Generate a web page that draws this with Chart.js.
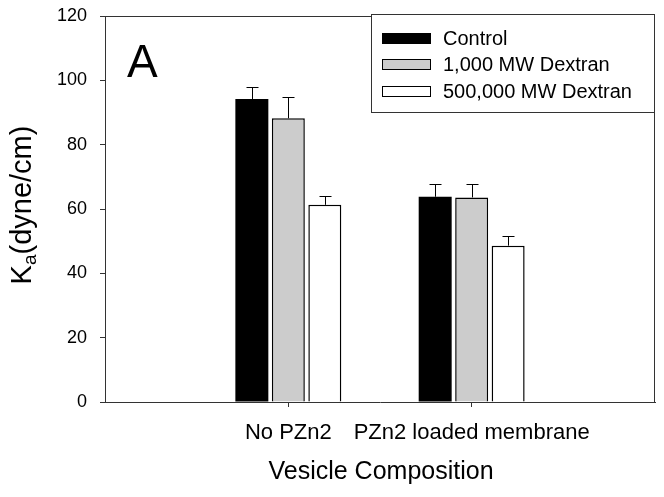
<!DOCTYPE html>
<html>
<head>
<meta charset="utf-8">
<script src="https://cdn.jsdelivr.net/npm/chart.js@4.4.0/dist/chart.umd.min.js"></script>
<style>
  html, body { margin: 0; padding: 0; background: #fff; }
  #wrap { width: 664px; height: 497px; }
</style>
</head>
<body>
<div id="wrap"><canvas id="kaChart" width="664" height="497"></canvas></div>
<script>
// Valores
const categories = ["No PZn2", "PZn2 loaded membrane"];
const seriesNames = ["Control", "1,000 MW Dextran", "500,000 MW Dextran"];
const controlVals = [94.2, 63.8];
const dextran1kVals = [88.2, 63.6];
const dextran500kVals = [61.3, 48.6];
// barras de error (solo hacia arriba)
const controlErr = [3.8, 4.1];
const dextran1kErr = [6.5, 4.2];
const dextran500kErr = [2.7, 2.9];
const yTicks = [0, 20, 40, 60, 80, 100, 120];

const FONT = "'Liberation Sans', Arial, sans-serif";

// categorías vacías a los lados para dejar hueco como en el original
const labels = ["", ...categories, ""];
const pad = arr => [null, ...arr, null];

const seriesVals = [controlVals, dextran1kVals, dextran500kVals];
const seriesErr = [controlErr, dextran1kErr, dextran500kErr];
const fills = ["#000000", "#cccccc", "#ffffff"];

// Marco, barras de error, leyenda, letra "A" y títulos de ejes
const extrasPlugin = {
  id: "extras",
  afterDatasetsDraw(chart) {
    const ctx = chart.ctx;
    const y = chart.scales.y;
    // barras de error
    ctx.save();
    ctx.strokeStyle = "#000";
    ctx.lineWidth = 1;
    chart.data.datasets.forEach((ds, i) => {
      const meta = chart.getDatasetMeta(i);
      meta.data.forEach((bar, j) => {
        const v = ds.data[j];
        if (v == null) return;
        const err = seriesErr[i][j - 1];
        const y0 = y.getPixelForValue(v);
        const y1 = Math.round(y.getPixelForValue(v + err)) + 0.5;
        const x = Math.round(bar.x) + 0.5;
        ctx.beginPath();
        ctx.moveTo(x, y0);
        ctx.lineTo(x, y1);
        ctx.moveTo(x - 6, y1);
        ctx.lineTo(x + 6, y1);
        ctx.stroke();
      });
    });
    ctx.restore();
  },
  afterDraw(chart) {
    const ctx = chart.ctx;
    const a = chart.chartArea;
    ctx.save();
    // marco superior y derecho
    ctx.strokeStyle = "#333";
    ctx.lineWidth = 1;
    ctx.beginPath();
    ctx.moveTo(a.left, a.top + 0.5);
    ctx.lineTo(a.right - 0.5, a.top + 0.5);
    ctx.lineTo(a.right - 0.5, a.bottom);
    ctx.stroke();

    // leyenda
    ctx.fillStyle = "#fff";
    ctx.fillRect(371, 14, 284, 98);
    ctx.strokeStyle = "#333";
    ctx.strokeRect(371.5, 14.5, 283, 98);
    const rows = [38, 64, 91];
    ctx.font = "20px " + FONT;
    ctx.textBaseline = "middle";
    ctx.textAlign = "left";
    chart.data.datasets.forEach((ds, i) => {
      ctx.fillStyle = fills[i];
      ctx.fillRect(382, rows[i] - 5, 49, 10);
      ctx.strokeStyle = "#000";
      ctx.strokeRect(382.5, rows[i] - 5 + 0.5, 48, 10);
      ctx.fillStyle = "#000";
      ctx.fillText(ds.label, 443, rows[i] + 1);
    });

    // letra del panel
    ctx.font = "46px " + FONT;
    ctx.textBaseline = "alphabetic";
    ctx.fillText("A", 127, 77);

    // título eje Y con subíndice
    ctx.translate(31, 205);
    ctx.rotate(-Math.PI / 2);
    const big = "29px " + FONT, small = "19px " + FONT;
    ctx.font = big;
    const wK = ctx.measureText("K").width;
    const wRest = ctx.measureText("(dyne/cm)").width;
    ctx.font = small;
    const wa = ctx.measureText("a").width;
    let x = -(wK + wa + wRest) / 2;
    ctx.font = big;
    ctx.fillText("K", x, 0);
    x += wK;
    ctx.font = small;
    ctx.fillText("a", x, 5);
    x += wa;
    ctx.font = big;
    ctx.fillText("(dyne/cm)", x, 0);
    ctx.restore();

    // título eje X
    ctx.save();
    ctx.font = "25px " + FONT;
    ctx.fillStyle = "#000";
    ctx.textAlign = "center";
    ctx.textBaseline = "alphabetic";
    ctx.fillText("Vesicle Composition", 381, 479);
    ctx.restore();
  }
};

const chart = new Chart(document.getElementById("kaChart").getContext("2d"), {
  type: "bar",
  data: {
    labels: labels,
    datasets: seriesNames.map((name, i) => ({
      label: name,
      data: pad(seriesVals[i]),
      backgroundColor: fills[i],
      borderColor: "#000",
      borderWidth: i === 0 ? 0 : 1.5,
      categoryPercentage: 0.597,
      barPercentage: 0.904
    }))
  },
  options: {
    responsive: false,
    devicePixelRatio: 1,
    animation: false,
    layout: { padding: { top: 16, right: 9, bottom: 0, left: 0 } },
    plugins: { legend: { display: false }, tooltip: { enabled: false } },
    scales: {
      x: {
        offset: false,
        grid: {
          offset: false,
          drawOnChartArea: false,
          drawTicks: true,
          tickLength: 5,
          tickColor: c => (c.index === 0 || c.index === labels.length - 1) ? "rgba(0,0,0,0)" : "#333"
        },
        border: { display: true, color: "#333", width: 1 },
        ticks: {
          color: "#000",
          font: { family: FONT, size: 22 },
          padding: 13,
          maxRotation: 0,
          minRotation: 0,
          autoSkip: false
        },
        afterFit: s => { s.height = 95; s.paddingLeft = 0; s.paddingRight = 0; }
      },
      y: {
        min: 0,
        max: 120,
        afterBuildTicks: s => { s.ticks = yTicks.map(v => ({ value: v })); },
        grid: { drawOnChartArea: false, drawTicks: true, tickLength: 5, tickColor: "#333" },
        border: { display: true, color: "#333", width: 1 },
        ticks: { color: "#000", font: { family: FONT, size: 18 }, padding: 13 },
        afterFit: s => { s.width = 105; s.paddingTop = 0; s.paddingBottom = 0; }
      }
    }
  },
  plugins: [extrasPlugin]
});
</script>
</body>
</html>
